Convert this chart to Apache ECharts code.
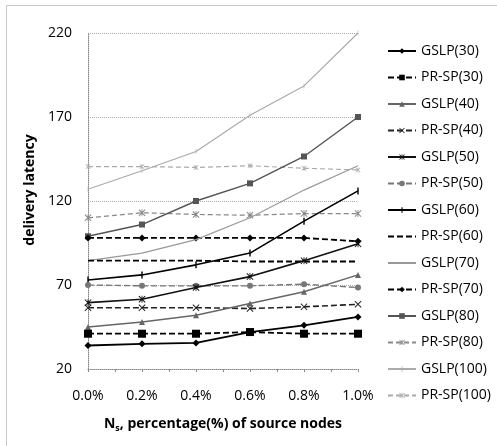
<!DOCTYPE html>
<html>
<head>
<meta charset="utf-8">
<script src="https://cdn.jsdelivr.net/npm/echarts@6/dist/echarts.min.js"></script>
<style>html,body{margin:0;padding:0;background:#fff}#c{width:497px;height:446px}</style>
</head>
<body>
<div id="c"></div>
<script>
// ---- data ----
var xValues = [0.0, 0.2, 0.4, 0.6, 0.8, 1.0]; // percentage (%) of source nodes
var yTicks = [20, 70, 120, 170, 220];
var gslp30  = [34, 35, 35.5, 42, 46, 51];
var prsp30  = [41, 41, 41, 42, 41, 41];
var gslp40  = [45, 48, 52, 59, 66, 76];
var prsp40  = [56.5, 56.5, 56.5, 56, 57, 58.5];
var gslp50  = [59.5, 61.5, 68.5, 75, 84.5, 94.5];
var prsp50  = [70, 69.5, 69.5, 69.5, 70.5, 68.5];
var gslp60  = [73, 76, 82, 89, 108, 126];
var prsp60  = [84.5, 84.5, 84.5, 84, 84, 84];
var gslp70  = [84.5, 89, 97, 110, 126.5, 141];
var prsp70  = [98, 98, 98, 98, 98, 96];
var gslp80  = [99, 106, 120, 130.5, 146.5, 170];
var prsp80  = [110, 113, 112, 111.5, 112.5, 112.5];
var gslp100 = [127, 138, 149.5, 171, 188.5, 220];
var prsp100 = [140.5, 140.5, 140, 141, 139.5, 138.5];

var names = ['GSLP(30)','PR-SP(30)','GSLP(40)','PR-SP(40)','GSLP(50)','PR-SP(50)','GSLP(60)','PR-SP(60)','GSLP(70)','PR-SP(70)','GSLP(80)','PR-SP(80)','GSLP(100)','PR-SP(100)'];
var values = [gslp30,prsp30,gslp40,prsp40,gslp50,prsp50,gslp60,prsp60,gslp70,prsp70,gslp80,prsp80,gslp100,prsp100];

// ---- styles ----
var BOX = 'M0,0M10,10';
var PLUS = 'path://' + BOX + 'M4,0H6V10H4Z';
var THIN = 'path://' + BOX + 'M4.4,0H5.6V10H4.4Z';
var NONE = 'path://' + BOX;
var CROSS = 'path://M1,0L5,4L9,0L10,1L6,5L10,9L9,10L5,6L1,10L0,9L4,5L0,1Z';
var AST = 'path://' + BOX + 'M4.4,0H5.6V4.4H4.4Z M4.4,5.6H5.6V10H4.4Z M1,0L5,4L9,0L10,1L6,5L10,9L9,10L5,6L1,10L0,9L4,5L0,1Z';
var styles = [
  {c:'#000', w:1.8, dash:'solid', sym:'diamond', size:7},
  {c:'#000', w:1.8, dash:[6,3], sym:'rect', size:8},
  {c:'#666', w:1.4, dash:'solid', sym:'triangle', size:6},
  {c:'#222', w:1.6, dash:[6,3], sym:CROSS, size:7},
  {c:'#111', w:1.6, dash:'solid', sym:AST, size:7},
  {c:'#777', w:1.4, dash:[6,3], sym:'circle', size:6},
  {c:'#000', w:1.6, dash:'solid', sym:PLUS, size:7},
  {c:'#000', w:1.8, dash:[6,3], sym:NONE, size:0},
  {c:'#999', w:1.2, dash:'solid', sym:NONE, size:0},
  {c:'#000', w:1.8, dash:[6,3], sym:'diamond', size:7},
  {c:'#555', w:1.4, dash:'solid', sym:'rect', size:6},
  {c:'#888', w:1.2, dash:[5,3], sym:AST, size:7},
  {c:'#aaa', w:1.2, dash:'solid', sym:THIN, size:5},
  {c:'#aaa', w:1.2, dash:[5,3], sym:AST, size:5}
];

var series = names.map(function(n, i){
  var s = styles[i];
  return {
    name: n, type: 'line',
    data: xValues.map(function(x, k){ return [x, values[i][k]]; }),
    symbol: s.sym, symbolSize: s.size, showSymbol: s.size > 0,
    symbolKeepAspect: true,
    lineStyle: {color: s.c, width: s.w, type: s.dash},
    itemStyle: {color: s.c, borderColor: s.c, borderWidth: 0},
    emphasis: {disabled: true},
    animation: false, z: 20 - i
  };
});

var FONT = '"Open Sans", "Liberation Sans", sans-serif';
var chart = echarts.init(document.getElementById('c'), null, {renderer: 'canvas'});
chart.setOption({
  backgroundColor: '#fff',
  animation: false,
  graphic: [{
    type: 'rect', shape: {x: 6.5, y: 5.5, width: 520, height: 470},
    style: {fill: 'none', stroke: '#c8c8c8', lineWidth: 1}, silent: true, z: -1
  }],
  grid: {show: false, left: 88, right: 139, top: 33, bottom: 77},
  xAxis: {
    type: 'value', min: 0, max: 1.0, interval: 0.1,
    name: '{n|N}{s|s}{n|, percentage(%) of source nodes}',
    nameLocation: 'middle', nameGap: 46,
    nameTextStyle: {
      rich: {
        n: {fontFamily: FONT, fontSize: 14, fontWeight: 'bold', color: '#000', lineHeight: 18},
        s: {fontFamily: FONT, fontSize: 9, fontWeight: 'bold', color: '#000', lineHeight: 12, verticalAlign: 'bottom'}
      }
    },
    axisLine: {show: true, lineStyle: {color: '#888', type: 'dotted', width: 1}},
    axisTick: {show: true, length: 3, lineStyle: {color: '#888'}},
    splitLine: {show: false},
    axisLabel: {
      margin: 20, fontFamily: FONT, fontSize: 14, color: '#000',
      formatter: function(v){
        var k = Math.round(v * 10);
        return (k % 2 === 0) ? (k / 10).toFixed(1) + '%' : '';
      }
    }
  },
  yAxis: {
    type: 'value', min: yTicks[0], max: yTicks[yTicks.length - 1], interval: 50,
    name: 'delivery latency', nameLocation: 'middle', nameGap: 46,
    nameTextStyle: {fontFamily: FONT, fontSize: 14, fontWeight: 'bold', color: '#000', padding: [0, 0, 0, 22]},
    axisLine: {show: true, lineStyle: {color: '#888', type: 'dotted', width: 1}},
    axisTick: {show: false},
    splitLine: {show: true, lineStyle: {color: '#aaa', type: 'dotted', width: 1}},
    axisLabel: {margin: 16, fontFamily: FONT, fontSize: 14, color: '#000'}
  },
  legend: {
    orient: 'vertical', left: 382, top: 39,
    itemWidth: 28, itemHeight: 7, itemGap: 12.5,
    textStyle: {fontFamily: FONT, fontSize: 14, color: '#000', lineHeight: 14},
    data: names
  },
  series: series
});
</script>
</body>
</html>
